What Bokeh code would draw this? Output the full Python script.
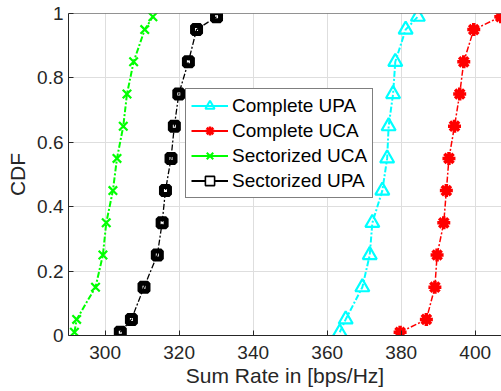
from bokeh.plotting import figure
from bokeh.models import Range1d, FixedTicker, Legend, LegendItem, Span
from bokeh.embed import file_html
from bokeh.resources import INLINE

# CDF levels at which markers are drawn
cdf_levels = [0.01, 0.05, 0.15, 0.25, 0.35, 0.45, 0.55, 0.65, 0.75, 0.85, 0.95, 0.99]

# Sum rate [bps/Hz] read at each CDF level
complete_upa = [363.4, 365.0, 369.5, 371.5, 372.2, 374.9, 376.2, 376.6, 377.8, 378.4, 381.2, 384.5]
complete_uca = [379.7, 386.8, 389.1, 389.7, 391.5, 392.2, 392.9, 394.4, 395.8, 396.9, 399.6, 406.9]
sectorized_uca = [291.7, 292.3, 297.4, 299.4, 300.3, 302.1, 303.2, 304.9, 305.9, 307.7, 310.7, 312.9]
sectorized_upa = [304.1, 307.1, 310.5, 314.1, 315.4, 316.3, 317.8, 318.7, 319.9, 322.5, 324.7, 330.1]

x_ticks = [300, 320, 340, 360, 380, 400]
y_ticks = [0, 0.2, 0.4, 0.6, 0.8, 1]
y_tick_labels = ["0", "0.2", "0.4", "0.6", "0.8", "1"]

X_MIN, X_MAX = 290.1, 407.1

FONT = "Liberation Sans"
AX = "#262626"

p = figure(width=501, height=391, output_backend="svg", toolbar_location=None,
           x_range=Range1d(X_MIN, X_MAX), y_range=Range1d(0, 1),
           min_border_left=68, min_border_right=0, min_border_top=13, min_border_bottom=56)
p.outline_line_color = None
p.background_fill_color = "white"
p.border_fill_color = "white"

for ax in (p.xaxis, p.yaxis):
    ax.axis_line_color = AX
    ax.major_tick_line_color = AX
    ax.major_tick_in = 5
    ax.major_tick_out = 0
    ax.minor_tick_line_color = None
    ax.major_label_text_font = FONT
    ax.major_label_text_font_size = "19px"
    ax.major_label_text_color = AX
    ax.axis_label_text_font = FONT
    ax.axis_label_text_font_style = "normal"
    ax.axis_label_text_color = AX
    ax.axis_label_text_font_size = "21px"

p.xaxis.ticker = FixedTicker(ticks=x_ticks)
p.yaxis.ticker = FixedTicker(ticks=y_ticks)
p.yaxis.major_label_overrides = {t: l for t, l in zip(y_ticks, y_tick_labels)}
p.xaxis.axis_label = "Sum Rate in [bps/Hz]"
p.yaxis.axis_label = "CDF"
p.xaxis.major_label_standoff = 10
p.xaxis.axis_label_standoff = 2
p.yaxis.major_label_standoff = 5
p.yaxis.axis_label_standoff = 5

p.xgrid.ticker = FixedTicker(ticks=x_ticks)
p.ygrid.ticker = FixedTicker(ticks=y_ticks)
for g in (p.xgrid, p.ygrid):
    g.grid_line_color = "#dedede"
    g.grid_line_width = 1

p.add_layout(Span(location=1, dimension="width", line_color=AX, line_width=1))

DASH = "6 2 2 2"

# Complete UPA (cyan, hollow triangles)
p.scatter(complete_upa, cdf_levels, marker="triangle", size=14, fill_color=None,
          line_color="#00ffff", line_width=2.2)
p.line(complete_upa, cdf_levels, line_color="#00ffff", line_width=2, line_dash=DASH)

# Complete UCA (red asterisks)
p.scatter(complete_uca, cdf_levels, marker="asterisk", size=13,
          line_color="#ff0000", line_width=3.5)
p.line(complete_uca, cdf_levels, line_color="#ff0000", line_width=1.5, line_dash=DASH)

# Sectorized UCA (green x)
p.scatter(sectorized_uca, cdf_levels, marker="x", size=12,
          line_color="#00ff00", line_width=2.2)
p.line(sectorized_uca, cdf_levels, line_color="#00ff00", line_width=2, line_dash=DASH)

# Sectorized UPA (black squares)
p.scatter(sectorized_upa, cdf_levels, marker="square", size=8, fill_color="white",
          line_color="black", line_width=5)
p.line(sectorized_upa, cdf_levels, line_color="black", line_width=1.3, line_dash=DASH)

# legend proxies (solid lines with small markers), placed off-range so invisible in the plot
legend_specs = [
    ("Complete UPA", "#00ffff", "triangle", 9, 2),
    ("Complete UCA", "#ff0000", "asterisk", 8, 2.5),
    ("Sectorized UCA", "#00ff00", "x", 7, 2),
    ("Sectorized UPA", "black", "square", 6, 1.6),
]
items = []
for label, col, mk, sz, lw in legend_specs:
    l = p.line([1000, 1001], [5, 5], line_color=col, line_width=2)
    s = p.scatter([1000], [5], marker=mk, size=sz, fill_color=None if mk != "square" else "white",
                  line_color=col, line_width=lw)
    items.append(LegendItem(label=label, renderers=[l, s]))

legend = Legend(items=items, location=(117, 137), margin=0, padding=5, spacing=2,
                glyph_width=37, glyph_height=23, label_height=23, label_standoff=4,
                label_text_font=FONT, label_text_font_size="19px", label_text_color="black",
                border_line_color="black", border_line_width=1,
                background_fill_color="white", background_fill_alpha=1)
p.add_layout(legend, "center")

open("out.html", "w").write(file_html(p, INLINE))
